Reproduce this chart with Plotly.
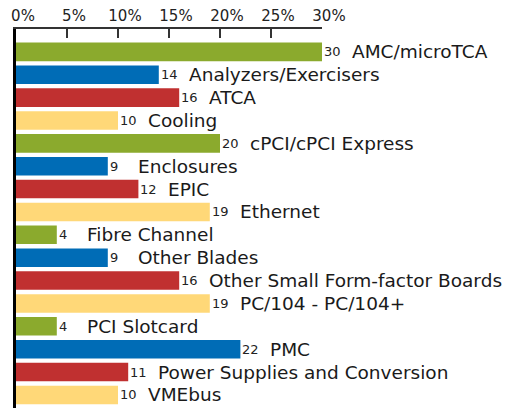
import plotly.graph_objects as go

categories = ["AMC/microTCA", "Analyzers/Exercisers", "ATCA", "Cooling",
              "cPCI/cPCI Express", "Enclosures", "EPIC", "Ethernet",
              "Fibre Channel", "Other Blades", "Other Small Form-factor Boards",
              "PC/104 - PC/104+", "PCI Slotcard", "PMC",
              "Power Supplies and Conversion", "VMEbus"]
values = [30, 14, 16, 10, 20, 9, 12, 19, 4, 9, 16, 19, 4, 22, 11, 10]
tick_vals = [0, 5, 10, 15, 20, 25, 30]
tick_text = ["0%", "5%", "10%", "15%", "20%", "25%", "30%"]

palette = ["#8BAA2D", "#006CB6", "#C03030", "#FFD878"]
colors = [palette[i % 4] for i in range(len(categories))]
FONT = "DejaVu Sans"

fig = go.Figure()
fig.add_trace(go.Bar(
    x=values, y=list(range(len(categories))), orientation="h",
    marker=dict(color=colors, line=dict(width=0)),
    width=0.81, hoverinfo="skip",
))

annotations = []
for i, (c, v) in enumerate(zip(categories, values)):
    annotations.append(dict(x=v, y=i, xref="x", yref="y", text=str(v),
                            showarrow=False, xanchor="left", yanchor="middle",
                            xshift=0, font=dict(family=FONT, size=13, color="#222")))
    annotations.append(dict(x=v, y=i, xref="x", yref="y", text=c,
                            showarrow=False, xanchor="left", yanchor="middle",
                            xshift=28, font=dict(family=FONT, size=18.5, color="#1a1a1a")))

fig.update_layout(
    width=507, height=400,
    margin=dict(l=8, r=193, t=21, b=0),
    paper_bgcolor="white", plot_bgcolor="white",
    showlegend=False,
    annotations=annotations,
    xaxis=dict(range=[0, 30], side="top", tickvals=tick_vals, ticktext=tick_text,
               ticks="inside", ticklen=9, tickcolor="#333", tickwidth=1.5,
               ticklabelshift=7, ticklabeloverflow="allow",
               showline=True, linecolor="#333", linewidth=1.5, showgrid=False,
               zeroline=False, tickfont=dict(family=FONT, size=15, color="#222")),
    yaxis=dict(range=[15.57, -1.0], showticklabels=False, showgrid=False,
               zeroline=False, showline=True, linecolor="black", linewidth=2.5,
               ticks=""),
)

fig.write_html("out.html")
